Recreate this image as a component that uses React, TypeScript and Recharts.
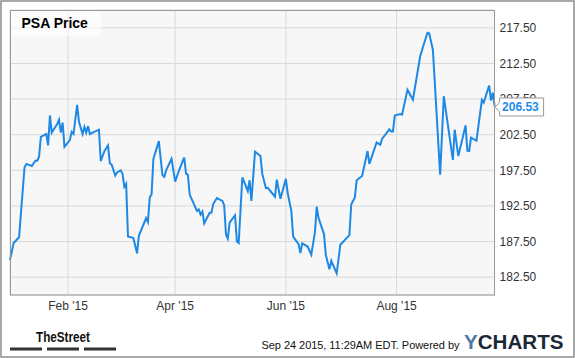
import { CartesianGrid, Line, LineChart, ReferenceDot, XAxis, YAxis } from "recharts"

// PSA closing prices
const dates = [
  "2014-12-31", "2015-01-02", "2015-01-05", "2015-01-08", "2015-01-09", "2015-01-12", "2015-01-14", "2015-01-15",
  "2015-01-16", "2015-01-17", "2015-01-20", "2015-01-21", "2015-01-22", "2015-01-23", "2015-01-26", "2015-01-27",
  "2015-01-28", "2015-01-29", "2015-01-30", "2015-02-02", "2015-02-03", "2015-02-04", "2015-02-06", "2015-02-07",
  "2015-02-09", "2015-02-10", "2015-02-11", "2015-02-12", "2015-02-13", "2015-02-18", "2015-02-19", "2015-02-21",
  "2015-02-23", "2015-02-24", "2015-02-25", "2015-02-27", "2015-02-28", "2015-03-02", "2015-03-03", "2015-03-04",
  "2015-03-05", "2015-03-06", "2015-03-09", "2015-03-11", "2015-03-12", "2015-03-16", "2015-03-17", "2015-03-18",
  "2015-03-19", "2015-03-20", "2015-03-23", "2015-03-25", "2015-03-26", "2015-03-27", "2015-03-30", "2015-04-01",
  "2015-04-03", "2015-04-06", "2015-04-07", "2015-04-08", "2015-04-09", "2015-04-13", "2015-04-14", "2015-04-15",
  "2015-04-16", "2015-04-17", "2015-04-20", "2015-04-21", "2015-04-22", "2015-04-24", "2015-04-27", "2015-04-28",
  "2015-04-29", "2015-04-30", "2015-05-01", "2015-05-04", "2015-05-05", "2015-05-06", "2015-05-08", "2015-05-11",
  "2015-05-12", "2015-05-13", "2015-05-15", "2015-05-18", "2015-05-19", "2015-05-21", "2015-05-22", "2015-05-26",
  "2015-05-27", "2015-05-29", "2015-06-01", "2015-06-02", "2015-06-04", "2015-06-05", "2015-06-08", "2015-06-09",
  "2015-06-10", "2015-06-13", "2015-06-15", "2015-06-17", "2015-06-18", "2015-06-19", "2015-06-22", "2015-06-23",
  "2015-06-25", "2015-06-26", "2015-06-29", "2015-07-01", "2015-07-06", "2015-07-07", "2015-07-09", "2015-07-10",
  "2015-07-13", "2015-07-16", "2015-07-17", "2015-07-21", "2015-07-23", "2015-07-24", "2015-07-28", "2015-07-29",
  "2015-07-30", "2015-07-31", "2015-08-03", "2015-08-04", "2015-08-07", "2015-08-10", "2015-08-14", "2015-08-16",
  "2015-08-18", "2015-08-19", "2015-08-21", "2015-08-25", "2015-08-27", "2015-09-01", "2015-09-02", "2015-09-04",
  "2015-09-08", "2015-09-09", "2015-09-10", "2015-09-11", "2015-09-14", "2015-09-17", "2015-09-18", "2015-09-21",
  "2015-09-22", "2015-09-23", "2015-09-24",
]

const prices = [
  184.9, 187.3, 188.1, 197.9, 198.4, 198.1, 198.85, 198.85,
  199.4, 202.2, 202.6, 201.0, 205.2, 202.8, 204.0, 204.6,
  202.8, 204.2, 200.8, 201.75, 202.9, 202.6, 206.7, 204.3,
  202.6, 203.6, 202.8, 203.7, 202.6, 203.2, 198.8, 200.2,
  201.0, 198.5, 198.3, 196.75, 197.2, 197.5, 197.0, 195.2,
  195.6, 188.2, 188.0, 185.85, 188.3, 190.8, 190.25, 193.7,
  194.1, 199.1, 201.6, 196.8, 196.6, 197.5, 199.1, 195.9,
  197.4, 199.3, 197.0, 196.9, 194.1, 191.8, 192.0, 191.3,
  191.7, 190.05, 191.55, 191.55, 192.8, 193.6, 193.2, 192.6,
  188.5, 187.9, 190.15, 191.2, 187.5, 187.3, 196.5, 194.6,
  196.1, 193.2, 200.1, 199.5, 197.0, 195.0, 195.05, 193.8,
  196.2, 193.5, 196.3, 194.3, 191.8, 188.2, 187.15, 185.9,
  187.25, 186.8, 185.65, 188.8, 192.4, 190.8, 188.55, 185.65,
  183.6, 184.8, 183.05, 187.05, 188.4, 192.7, 193.7, 196.1,
  196.7, 200.2, 198.4, 201.4, 201.1, 201.9, 203.25, 202.95,
  202.95, 205.2, 205.4, 205.3, 208.8, 207.4, 213.5, 215.2,
  216.8, 216.7, 214.4, 196.9, 207.9, 198.95, 203.2, 199.5,
  203.8, 200.25, 200.2, 202.1, 201.65, 207.4, 207.0, 209.4,
  207.3, 208.4, 206.53,
]

const monthTicks = ["2015-02-01", "2015-04-01", "2015-06-01", "2015-08-01"]
const monthLabels = ["Feb '15", "Apr '15", "Jun '15", "Aug '15"]
const priceTicks = [182.5, 187.5, 192.5, 197.5, 202.5, 207.5, 212.5, 217.5]

const toTime = (s: string) => {
  const [y, m, d] = s.split("-").map(Number)
  return Date.UTC(y, m - 1, d)
}

const data = dates.map((d, i) => ({ t: toTime(d), price: prices[i] }))
const tickTimes = monthTicks.map(toTime)
const last = data[data.length - 1]

const FONT = "'Liberation Sans', Arial, sans-serif"

function LastValueTag(props: any) {
  const { cx, cy } = props
  if (cx == null || cy == null) return <g />
  const c = cy + 1
  return (
    <g>
      <path
        d={`M${cx + 0.5},${c} L${cx + 5},${c - 4.5} L${cx + 5},${c - 9} L${cx + 49},${c - 9} L${cx + 49},${c + 9} L${cx + 5},${c + 9} L${cx + 5},${c + 4.5} Z`}
        fill="#fff"
        stroke="#999"
      />
      <text x={cx + 7.5} y={c + 4.5} fontSize={12} fontWeight="bold" fill="#1f8ceb" fontFamily={FONT}>
        {last.price.toFixed(2)}
      </text>
    </g>
  )
}

export default function App() {
  return (
    <div style={{ position: "absolute", left: 0, top: 0, width: 575, height: 358, background: "#fff" }}>
      <LineChart width={575} height={358} data={data} margin={{ top: 10, left: 10, right: 10.4, bottom: 33 }}>
        <CartesianGrid stroke="#d9d9d9" fill="#f7f7f7" />
        <XAxis
          dataKey="t"
          type="number"
          domain={["dataMin", "dataMax"]}
          ticks={tickTimes}
          tickFormatter={(v) => monthLabels[tickTimes.indexOf(v)] ?? ""}
          height={30}
          axisLine={false}
          tickLine={false}
          tickSize={0}
          tickMargin={6}
          tick={{ fontSize: 12, fill: "#333", fontFamily: FONT }}
        />
        <YAxis
          orientation="right"
          domain={[180, 220]}
          ticks={priceTicks}
          tickFormatter={(v) => Number(v).toFixed(2)}
          width={70}
          axisLine={false}
          tickLine={false}
          tickSize={0}
          tickMargin={5}
          tick={{ fontSize: 12, fill: "#333", fontFamily: FONT, textAnchor: "start" }}
        />
        <Line
          type="linear"
          dataKey="price"
          stroke="#1e88e5"
          strokeWidth={2}
          dot={false}
          isAnimationActive={false}
        />
        <ReferenceDot
          x={last.t}
          y={last.price}
          r={0}
          ifOverflow="visible"
          shape={LastValueTag}
          {...({ zIndex: 2500 } as any)}
        />
      </LineChart>
      <svg width={575} height={358} style={{ position: "absolute", left: 0, top: 0, pointerEvents: "none" }}>
        <rect x={1} y={1} width={573} height={356} fill="none" stroke="#8c8c8c" strokeWidth={1.5} />
        <rect x={10.5} y={10.5} width={484} height={284.5} fill="none" stroke="#999" />
        <rect x={11} y={11} width={90} height={25} fill="#fff" fillOpacity={0.6} />
        <text x={21.5} y={28} fontSize={14} fontWeight="bold" fill="#000" fontFamily={FONT}>
          PSA Price
        </text>
        <text
          x={36}
          y={341.5}
          fontSize={15}
          fontWeight="bold"
          fill="#111"
          fontFamily="'Liberation Sans Narrow', 'Arial Narrow', sans-serif"
          textLength={54}
          lengthAdjust="spacingAndGlyphs"
        >
          TheStreet
        </text>
        <rect x={10} y={347.5} width={32} height={3} fill="#333" />
        <rect x={47} y={347.5} width={32} height={3} fill="#333" />
        <rect x={84} y={347.5} width={32} height={3} fill="#333" />
        <text x={261.5} y={348.5} fontSize={11} fill="#111" fontFamily={FONT} textLength={198} lengthAdjust="spacing">
          Sep 24 2015, 11:29AM EDT. Powered by
        </text>
        <text x={464} y={348.5} fontSize={20} fontWeight="bold" fontFamily={FONT} textLength={99.5} lengthAdjust="spacingAndGlyphs">
          <tspan fill="#4d78a8">Y</tspan>
          <tspan fill="#1c2838">CHARTS</tspan>
        </text>
      </svg>
    </div>
  )
}
